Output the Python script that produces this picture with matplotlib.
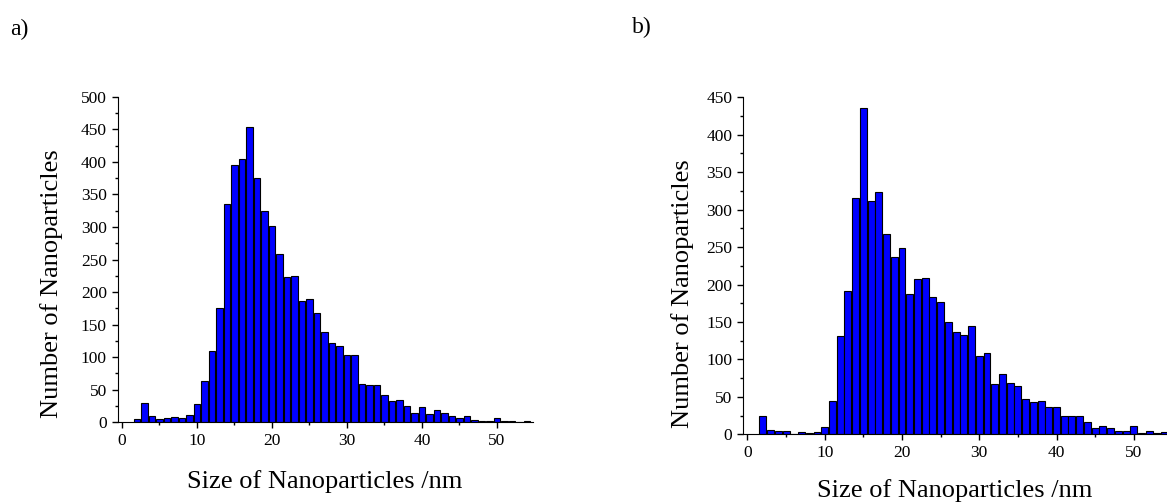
import matplotlib
matplotlib.use("Agg")
import matplotlib.pyplot as plt
from matplotlib.ticker import MultipleLocator

plt.rcParams['font.family'] = ['Liberation Serif', 'DejaVu Serif']

# histogram data (bin centre in nm, count)
sizes_a = list(range(2, 55))
counts_a = [5, 30, 9, 5, 7, 8, 6, 11, 28, 64, 110, 175, 335, 395, 405, 453,
            375, 325, 301, 259, 223, 224, 186, 190, 168, 138, 122, 117, 104,
            103, 59, 58, 57, 42, 33, 35, 25, 15, 23, 13, 19, 15, 10, 6, 10,
            3, 2, 2, 7, 2, 1.5, 0, 1.5]

sizes_b = list(range(2, 55))
counts_b = [25, 6, 5, 4, 0, 3, 2, 3, 10, 45, 131, 192, 316, 436, 312, 324,
            267, 237, 249, 187, 208, 209, 184, 177, 150, 137, 132, 144, 104,
            108, 67, 81, 68, 64, 47, 43, 45, 36, 36, 25, 25, 25, 16, 8, 11,
            8, 5, 4, 11, 2, 4, 2, 3]

W, H = 1167, 504
fig = plt.figure(figsize=(W / 100, H / 100), dpi=100)


def make_axes(left, right, top, bottom):
    return fig.add_axes([left / W, 1 - bottom / H, (right - left) / W, (bottom - top) / H])


def style(ax, xlim, ylim):
    ax.set_xlim(*xlim)
    ax.set_ylim(*ylim)
    ax.spines['top'].set_visible(False)
    ax.spines['right'].set_visible(False)
    ax.xaxis.set_major_locator(MultipleLocator(10))
    ax.xaxis.set_minor_locator(MultipleLocator(5))
    ax.yaxis.set_major_locator(MultipleLocator(50))
    ax.yaxis.set_minor_locator(MultipleLocator(25))
    ax.tick_params(which='major', length=4, width=1, labelsize=12.5, direction='out', pad=4)
    ax.tick_params(which='minor', length=2.5, width=1, direction='out')


# panel a
ax1 = make_axes(118, 533, 96.7, 422.3)
ax1.bar(sizes_a, counts_a, width=0.9, color='#0000ff', edgecolor='black', linewidth=0.8)
style(ax1, (-0.53, 54.8), (0, 500))

# panel b
ax2 = make_axes(743.3, 1167, 97.3, 434.3)
ax2.bar(sizes_b, counts_b, width=0.9, color='#0000ff', edgecolor='black', linewidth=0.8)
style(ax2, (-0.54, 54.3), (0, 450))

# labels
fig.text(52 / W, 1 - 284 / H, "Number of Nanoparticles", rotation=90,
         ha='center', va='center', fontsize=19)
fig.text(325 / W, 1 - 482 / H, "Size of Nanoparticles /nm",
         ha='center', va='center', fontsize=19)
fig.text(683 / W, 1 - 294 / H, "Number of Nanoparticles", rotation=90,
         ha='center', va='center', fontsize=19)
fig.text(955 / W, 1 - 491 / H, "Size of Nanoparticles /nm",
         ha='center', va='center', fontsize=19)

fig.text(10 / W, 1 - 29 / H, "a)", ha='left', va='center', fontsize=17)
fig.text(632 / W, 1 - 27 / H, "b)", ha='left', va='center', fontsize=17)

plt.savefig("out.png", dpi=100)
